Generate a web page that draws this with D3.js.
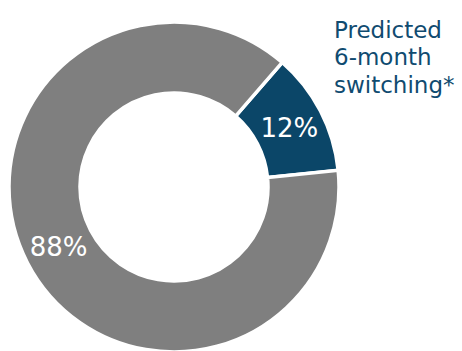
<!DOCTYPE html>
<html>
<head>
<meta charset="utf-8">
<script src="https://cdn.jsdelivr.net/npm/d3@7"></script>
<style>
  html, body { margin: 0; padding: 0; background: #ffffff; }
  svg { display: block; }
  text { font-family: "DejaVu Sans", Verdana, sans-serif; }
</style>
</head>
<body>
<svg id="chart" width="462" height="351"></svg>
<script>
// Share of respondents
const categories = ["Predicted 6-month switching*", "Other"];
const values = [12, 88];
const valueLabels = ["12%", "88%"];
const colors = ["#0b4668", "#7f7f7f"];
const legendLines = ["Predicted", "6-month", "switching*"];

const svg = d3.select("#chart");
const cx = 174, cy = 187;
const outerR = 165, innerR = 94;
const startDeg = 41;

const pie = d3.pie()
  .sort(null)
  .value(d => d)
  .startAngle(startDeg * Math.PI / 180)
  .endAngle(startDeg * Math.PI / 180 + 2 * Math.PI);

const arc = d3.arc().innerRadius(innerR).outerRadius(outerR);
const labelArc = d3.arc().innerRadius(96).outerRadius(164);

const g = svg.append("g").attr("transform", `translate(${cx},${cy})`);
const arcs = pie(values);

g.selectAll("path.slice")
  .data(arcs)
  .join("path")
  .attr("class", "slice")
  .attr("d", arc)
  .attr("fill", (d, i) => colors[i])
  .attr("stroke", "#ffffff")
  .attr("stroke-width", 3.5)
  .attr("stroke-linejoin", "miter");

g.selectAll("text.value")
  .data(arcs)
  .join("text")
  .attr("class", "value")
  .attr("transform", d => `translate(${labelArc.centroid(d)})`)
  .attr("text-anchor", "middle")
  .attr("dy", "0.36em")
  .attr("font-size", 26)
  .attr("fill", "#ffffff")
  .text((d, i) => valueLabels[i]);

// Category caption beside the highlighted slice
const caption = svg.append("text")
  .attr("x", 334)
  .attr("y", 37.5)
  .attr("font-size", 23)
  .attr("fill", "#104b70");
caption.selectAll("tspan")
  .data(legendLines)
  .join("tspan")
  .attr("x", 334)
  .attr("dy", (d, i) => i === 0 ? 0 : 27.6)
  .text(d => d);
</script>
</body>
</html>
